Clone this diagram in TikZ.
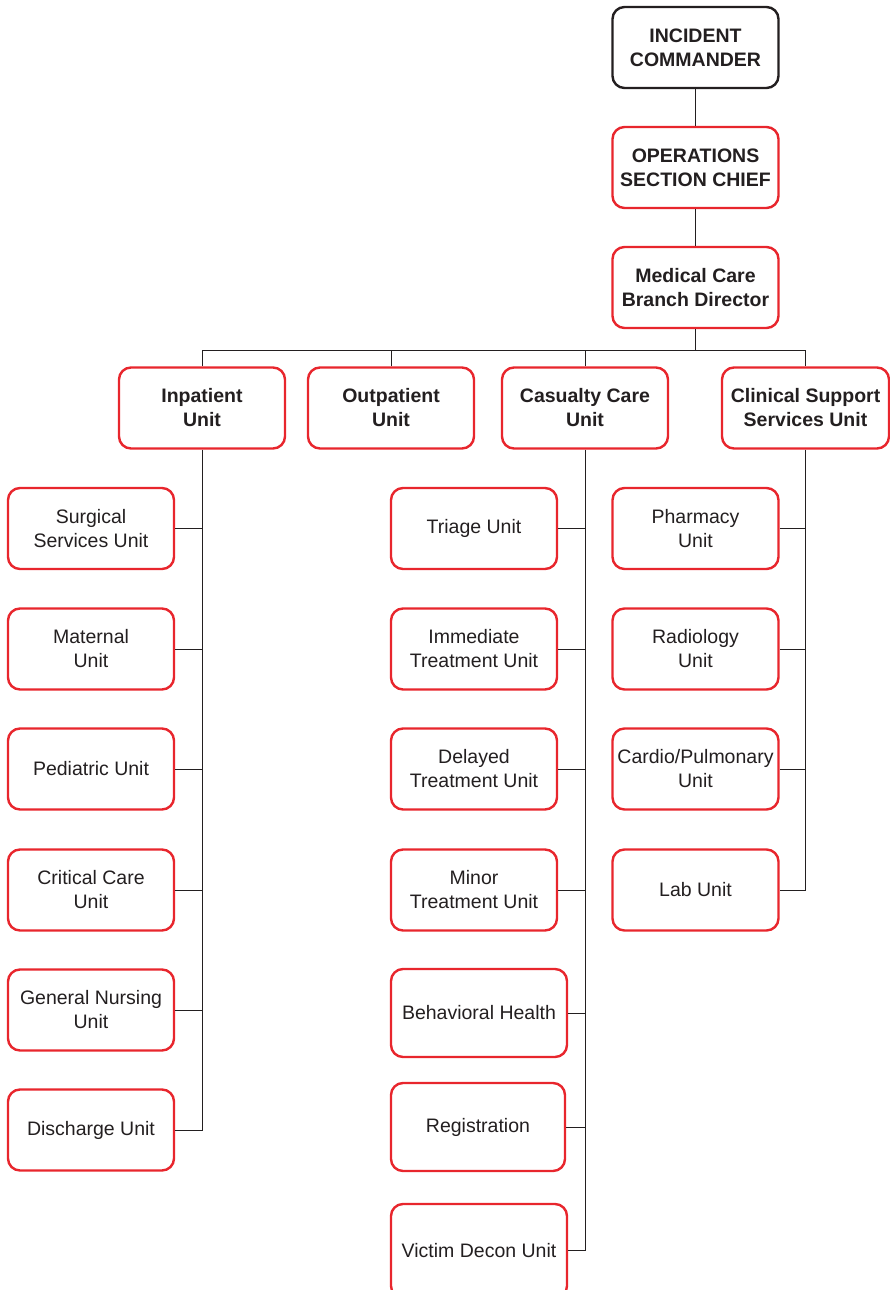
\documentclass[tikz,border=0pt]{standalone}
\usepackage{fontspec}
\setmainfont{Liberation Sans}
\definecolor{boxred}{HTML}{E8262D}
\definecolor{ink}{HTML}{231F20}
\begin{document}
\begin{tikzpicture}[x=1pt,y=-1pt,
  unit/.style={draw=boxred, line width=2.4pt, rounded corners=12pt, fill=white,
    minimum width=166pt, minimum height=81pt, inner sep=0pt, align=center,
    text=ink, font=\fontsize{19.5}{24}\selectfont},
  head/.style={unit, font=\bfseries\fontsize{19.5}{24}\selectfont},
  link/.style={draw=ink, line width=1pt}]
\useasboundingbox (0,0) rectangle (889,1290);

% command chain
\node[head, draw=ink] (ic)  at (695.5,47.5)  {INCIDENT\\COMMANDER};
\node[head] (osc) at (695.5,167.5) {OPERATIONS\\SECTION CHIEF};
\node[head] (mcb) at (695.5,287.5) {Medical Care\\Branch Director};

% units
\node[head] (inp)  at (202,408) {Inpatient\\Unit};
\node[head] (outp) at (391,408) {Outpatient\\Unit};
\node[head] (cas)  at (585,408) {Casualty Care\\Unit};
\node[head, minimum width=167pt] (clin) at (805.5,408) {Clinical Support\\Services Unit};

% inpatient column
\node[unit] (sur) at (91,528.5) {Surgical\\Services Unit};
\node[unit] (mat) at (91,649)   {Maternal\\Unit};
\node[unit] (ped) at (91,769)   {Pediatric Unit};
\node[unit] (crit) at (91,890)  {Critical Care\\Unit};
\node[unit] (gen) at (91,1010)  {General Nursing\\Unit};
\node[unit] (dis) at (91,1130)  {Discharge Unit};

% casualty care column
\node[unit] (tri) at (474,528.5) {Triage Unit};
\node[unit] (imm) at (474,649)   {Immediate\\Treatment Unit};
\node[unit] (del) at (474,769)   {Delayed\\Treatment Unit};
\node[unit] (min) at (474,890)   {Minor\\Treatment Unit};
\node[unit, minimum width=176pt, minimum height=88pt] (beh) at (479,1013) {Behavioral Health};
\node[unit, minimum width=174pt, minimum height=88pt] (reg) at (478,1127) {Registration};
\node[unit, minimum width=176pt, minimum height=94pt] (vic) at (479,1251) {Victim Decon Unit};

% clinical support column
\node[unit] (pha) at (695.5,528.5) {Pharmacy\\Unit};
\node[unit] (rad) at (695.5,649)   {Radiology\\Unit};
\node[unit] (car) at (695.5,769)   {Cardio/Pulmonary\\Unit};
\node[unit] (lab) at (695.5,890)   {Lab Unit};

% command links
\draw[link] (ic) -- (osc);
\draw[link] (osc) -- (mcb);
\coordinate (bar) at (695.5,350);
\draw[link, line width=1.5pt] (mcb.south) -- (bar);
\draw[link] (inp.north) -- (inp.north |- bar) -- (clin.north |- bar) -- (clin.north);
\draw[link] (outp.north) -- (outp.north |- bar);
\draw[link] (cas.north) -- (cas.north |- bar);

% inpatient spine
\draw[link] (inp.south) |- (dis.east);
\foreach \n in {sur,mat,ped,crit,gen}
  \draw[link] (\n.east) -- (\n.east -| inp.south);

% casualty care spine
\draw[link] (cas.south) |- ([yshift=1pt]vic.east);
\foreach \n in {tri,imm,del,min,beh,reg}
  \draw[link] (\n.east) -- (\n.east -| cas.south);

% clinical support spine
\draw[link] (clin.south) |- (lab.east);
\foreach \n in {pha,rad,car}
  \draw[link] (\n.east) -- (\n.east -| clin.south);
\end{tikzpicture}
\end{document}
